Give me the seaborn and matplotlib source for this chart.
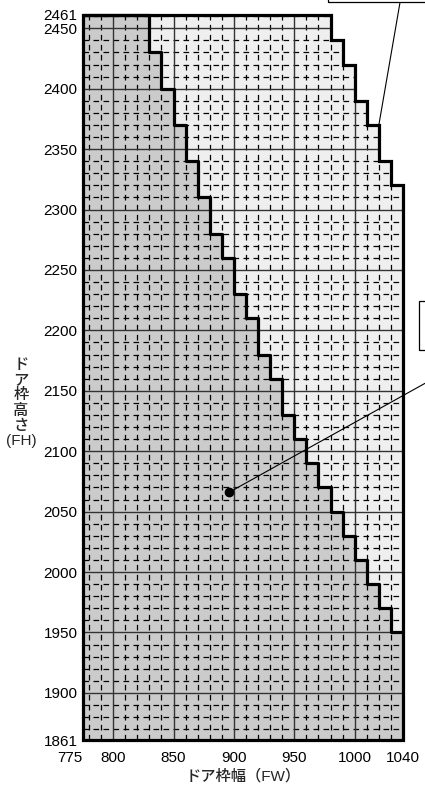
import numpy as np
import matplotlib
matplotlib.use("Agg")
import matplotlib.pyplot as plt
import seaborn as sns
from matplotlib.patches import Polygon, Rectangle
from matplotlib.lines import Line2D

# frame range (FW x FH)
fw_min, fw_max = 775, 1040
fh_min, fh_max = 1861, 2461

# outer limit: step starts (FW) and the max height from there
outer_x = [775, 980, 990, 1000, 1010, 1020, 1030, 1040]
outer_h = [2461, 2440, 2420, 2390, 2370, 2340, 2320, 2320]

# inner limit (dark zone)
inner_x = [775, 830, 840, 850, 860, 870, 880, 890, 900, 910, 920, 930,
           940, 950, 960, 970, 980, 990, 1000, 1010, 1020, 1030, 1040]
inner_h = [2461, 2430, 2400, 2370, 2340, 2310, 2280, 2260, 2230, 2210, 2180, 2160,
           2130, 2110, 2090, 2070, 2050, 2030, 2010, 1990, 1970, 1950, 1950]

xticks = [775, 800, 850, 900, 950, 1000, 1040]
yticks = [1861, 1900, 1950, 2000, 2050, 2100, 2150, 2200, 2250, 2300, 2350, 2400, 2450, 2461]

point = (896, 2066)
top_callout = (1020, 2370)

sns.set_style("white")
plt.rcParams['font.family'] = ['Liberation Sans', 'Noto Sans CJK JP', 'DejaVu Sans']

fig = plt.figure(figsize=(4.25, 7.85), dpi=100)
ax = fig.add_axes([83 / 425, 1 - 740 / 785, 320 / 425, 725 / 785])

dark = "#cbcbcb"
light = "#efefef"

ax.fill_between(outer_x, fh_min, outer_h, step="post", color=light, lw=0, zorder=1)
ax.fill_between(inner_x, fh_min, inner_h, step="post", color=dark, lw=0, zorder=1)

# outline polygon of the usable zone
verts = [(fw_min, fh_min)]
for i in range(len(outer_x) - 1):
    verts.append((outer_x[i], outer_h[i]))
    verts.append((outer_x[i + 1], outer_h[i]))
verts.append((fw_max, fh_min))
clip = Polygon(verts, closed=True, transform=ax.transData, facecolor="none", edgecolor="none")
ax.add_patch(clip)

# grid, clipped to the zone
minor_x = [v for v in range(780, fw_max, 10) if v % 50]
minor_y = [v for v in range(1870, fh_max, 10) if v % 50]
major_x = list(range(800, fw_max, 50))
major_y = list(range(1900, fh_max, 50))
dash = (0, (4.5, 3.5))
g1 = ax.vlines(minor_x, fh_min, fh_max, colors="black", linewidths=0.9, linestyles=dash, zorder=2)
g2 = ax.hlines(minor_y, fw_min, fw_max, colors="black", linewidths=0.9, linestyles=dash, zorder=2)
g3 = ax.vlines(major_x, fh_min, fh_max, colors="#333333", linewidths=1.0, zorder=2)
g4 = ax.hlines(major_y, fw_min, fw_max, colors="#333333", linewidths=1.0, zorder=2)
for g in (g1, g2, g3, g4):
    g.set_clip_path(clip)

# thick boundaries
ax.add_patch(Polygon(verts, closed=True, fill=False, edgecolor="black", lw=2.3,
                     joinstyle="miter", clip_on=False, zorder=4))
sns.lineplot(x=inner_x, y=inner_h, drawstyle="steps-post", color="black", lw=2.3,
             clip_on=False, zorder=4, ax=ax, estimator=None)

ax.plot(*point, "o", color="black", markersize=6, zorder=5)

ax.set_xlim(fw_min, fw_max)
ax.set_ylim(fh_min, fh_max)
ax.set_aspect("auto")
for s in ax.spines.values():
    s.set_visible(False)
ax.set_xticks(xticks)
ax.set_yticks(yticks)
ax.tick_params(length=0, labelsize=11, colors="black")
ax.tick_params(axis="x", pad=8)
ax.tick_params(axis="y", pad=4)
ax.get_xticklabels()[0].set_ha("right")

ax.set_xlabel("ドア枠幅（FW）", fontsize=11, labelpad=3, fontweight=500)
ax.set_ylabel("ド\nア\n枠\n高\nさ\n(FH)", fontsize=11, rotation=0, fontweight=500,
              ha="center", va="center", multialignment="center", linespacing=1.1)
ax.yaxis.set_label_coords((21 - 83) / 320, (740 - 403) / 725)

# callouts running off the page
W, H = 425, 785
fig.add_artist(Rectangle((327.5 / W, 1 - 2 / H), 0.5, 0.1, transform=fig.transFigure,
                         fill=False, edgecolor="black", lw=0.9))
fig.add_artist(Rectangle((418.5 / W, 1 - 350 / H), 0.5, 49 / H, transform=fig.transFigure,
                         fill=False, edgecolor="black", lw=0.9))

px = ax.transData.transform(top_callout)
fx, fy = fig.transFigure.inverted().transform(px)
fig.add_artist(Line2D([fx, 400 / W], [fy, 1 - 2.5 / H], transform=fig.transFigure,
                      color="black", lw=0.8))
px = ax.transData.transform(point)
fx, fy = fig.transFigure.inverted().transform(px)
fig.add_artist(Line2D([fx, 440 / W], [fy, 1 - 375 / H], transform=fig.transFigure,
                      color="black", lw=0.8))

fig.savefig("out.png", dpi=100)
